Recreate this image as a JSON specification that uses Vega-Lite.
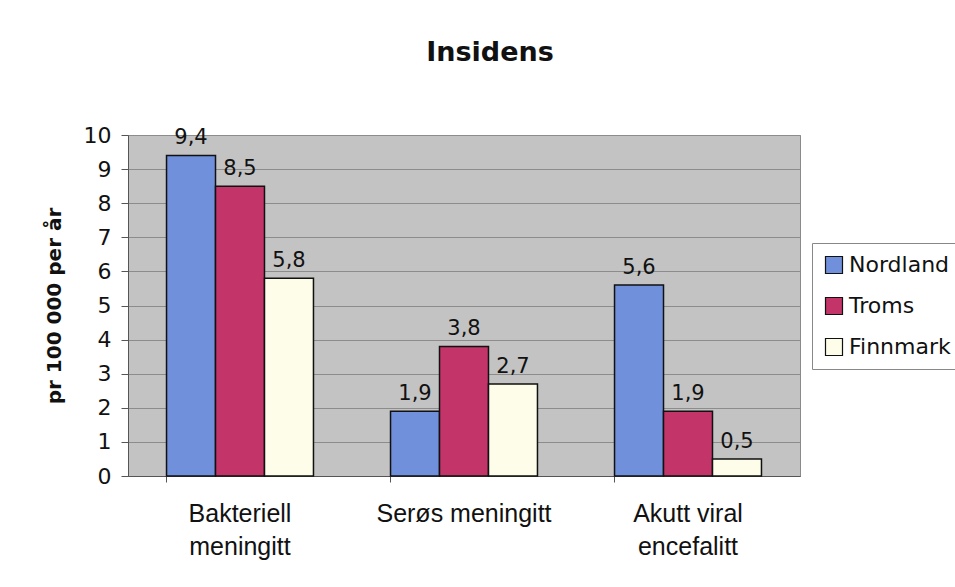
{
  "$schema": "https://vega.github.io/schema/vega-lite/v6.json",
  "autosize": {"type": "none"},
  "width": 672,
  "height": 341,
  "padding": {"left": 128, "top": 135, "right": 155, "bottom": 111},
  "background": "white",
  "config": {
    "locale": {"number": {"decimal": ",", "thousands": " ", "grouping": [3], "currency": ["", " kr"]}},
    "font": "DejaVu Sans",
    "view": {"fill": "#c3c3c3", "stroke": "#8a8a8a", "strokeWidth": 1}
  },
  "title": {
    "text": "Insidens",
    "font": "DejaVu Sans",
    "fontSize": 27,
    "fontWeight": "bold",
    "color": "#111",
    "offset": 57,
    "dx": 26,
    "anchor": "middle"
  },
  "data": {
    "values": [
      {"diagnose": "Bakteriell meningitt", "fylke": "Nordland", "verdi": 9.4},
      {"diagnose": "Bakteriell meningitt", "fylke": "Troms", "verdi": 8.5},
      {"diagnose": "Bakteriell meningitt", "fylke": "Finnmark", "verdi": 5.8},
      {"diagnose": "Serøs meningitt", "fylke": "Nordland", "verdi": 1.9},
      {"diagnose": "Serøs meningitt", "fylke": "Troms", "verdi": 3.8},
      {"diagnose": "Serøs meningitt", "fylke": "Finnmark", "verdi": 2.7},
      {"diagnose": "Akutt viral encefalitt", "fylke": "Nordland", "verdi": 5.6},
      {"diagnose": "Akutt viral encefalitt", "fylke": "Troms", "verdi": 1.9},
      {"diagnose": "Akutt viral encefalitt", "fylke": "Finnmark", "verdi": 0.5}
    ]
  },
  "encoding": {
    "x": {
      "field": "diagnose",
      "type": "nominal",
      "sort": ["Bakteriell meningitt", "Serøs meningitt", "Akutt viral encefalitt"],
      "scale": {"paddingInner": 0.344, "paddingOuter": 0.172},
      "axis": {
        "title": null,
        "labelAngle": 0,
        "bandPosition": 0,
        "labelFont": "Liberation Sans",
        "labelFontSize": 25,
        "labelColor": "#111",
        "labelPadding": 19,
        "labelLineHeight": 33,
        "labelOverlap": false,
        "labelExpr": "datum.value == 'Bakteriell meningitt' ? ['Bakteriell', 'meningitt'] : datum.value == 'Akutt viral encefalitt' ? ['Akutt viral', 'encefalitt'] : datum.value",
        "tickColor": "#555",
        "tickSize": 6,
        "domainColor": "#555",
        "grid": false
      }
    },
    "xOffset": {
      "field": "fylke",
      "type": "nominal",
      "sort": ["Nordland", "Troms", "Finnmark"],
      "scale": {"paddingInner": 0, "paddingOuter": 0}
    },
    "y": {
      "field": "verdi",
      "type": "quantitative",
      "scale": {"domain": [0, 10]},
      "axis": {
        "title": "pr 100 000 per år",
        "titleFontSize": 20,
        "titleFontWeight": "bold",
        "titleColor": "#111",
        "titlePadding": 19,
        "values": [0, 1, 2, 3, 4, 5, 6, 7, 8, 9, 10],
        "format": "d",
        "labelOverlap": false,
        "labelFontSize": 22,
        "labelColor": "#111",
        "labelPadding": 10,
        "tickColor": "#555",
        "tickSize": 7,
        "domainColor": "#555",
        "gridColor": "#8c8c8c",
        "gridWidth": 1
      }
    }
  },
  "layer": [
    {
      "mark": {"type": "bar", "stroke": "#111", "strokeWidth": 1.5},
      "encoding": {
        "color": {
          "field": "fylke",
          "type": "nominal",
          "sort": ["Nordland", "Troms", "Finnmark"],
          "scale": {"domain": ["Nordland", "Troms", "Finnmark"], "range": ["#7090dc", "#c33468", "#fdfdea"]},
          "legend": {
            "title": null,
            "orient": "none",
            "legendX": 684,
            "legendY": 108,
            "symbolType": "square",
            "symbolSize": 289,
            "symbolStrokeColor": "#111",
            "symbolStrokeWidth": 1.2,
            "labelFontSize": 22,
            "labelColor": "#111",
            "labelOffset": 4,
            "rowPadding": 19,
            "strokeColor": "#888",
            "fillColor": "white",
            "padding": 11
          }
        }
      }
    },
    {
      "mark": {"type": "text", "baseline": "bottom", "dy": -7, "fontSize": 21, "color": "#111"},
      "encoding": {
        "text": {"field": "verdi", "type": "quantitative", "format": ".1f"}
      }
    }
  ]
}
